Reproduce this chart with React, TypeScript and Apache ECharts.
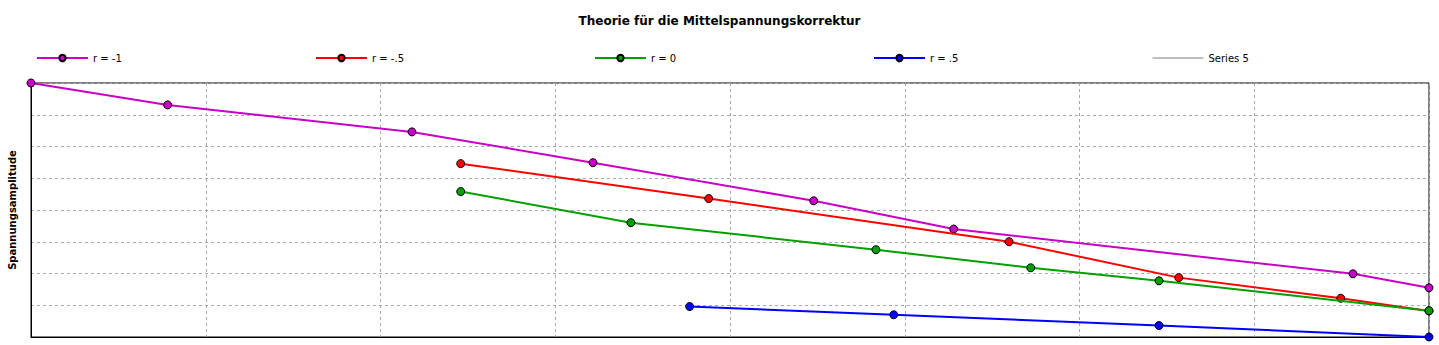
import React, { useEffect, useRef } from "react";
import * as echarts from "echarts";

const seriesNames = ["r = -1", "r = -.5", "r = 0", "r = .5", "Series 5"];
const seriesColors = ["#C800C8", "#FF0000", "#00A000", "#0000FF", "#808080"];

const rMinus1: [number, number][] = [
  [0, 8], [0.782, 7.31], [2.18, 6.46], [3.216, 5.49], [4.479, 4.29], [5.28, 3.4], [7.565, 1.99], [8, 1.55],
];
const rMinusHalf: [number, number][] = [
  [2.459, 5.46], [3.878, 4.36], [5.597, 3.0], [6.568, 1.87], [7.495, 1.22], [8, 0.82],
];
const rZero: [number, number][] = [
  [2.459, 4.58], [3.433, 3.6], [4.835, 2.75], [5.721, 2.18], [6.455, 1.77], [8, 0.83],
];
const rHalf: [number, number][] = [
  [3.769, 0.96], [4.937, 0.7], [6.455, 0.36], [8, 0],
];
const series5: [number, number][] = [];

const allData = [rMinus1, rMinusHalf, rZero, rHalf, series5];
const legendLefts = [36, 315, 594, 873, 1152];

const FONT = "DejaVu Sans";

export default function App() {
  const ref = useRef<HTMLDivElement>(null);
  useEffect(() => {
    if (!ref.current) return;
    const chart = echarts.init(ref.current, undefined, { renderer: "svg" });
    const axisCommon = {
      type: "value" as const,
      min: 0,
      max: 8,
      interval: 1,
      axisLabel: { show: false },
      axisTick: { show: false },
      axisLine: { show: true, lineStyle: { color: "#000", width: 1 } },
      splitLine: { show: true, lineStyle: { color: "#A8A8A8", type: [3, 3] as any, width: 1 } },
    };
    chart.setOption({
      animation: false,
      backgroundColor: "#fff",
      title: {
        text: "Theorie für die Mittelspannungskorrektur",
        left: "center",
        top: 10,
        textStyle: { fontFamily: FONT, fontSize: 12, fontWeight: "bold", color: "#000" },
      },
      legend: seriesNames.map((n, i) => ({
        data: [n],
        left: legendLefts[i],
        top: 53,
        itemWidth: 51,
        itemHeight: 8,
        itemGap: 5,
        padding: 0,
        ...(i === 4
          ? { itemStyle: { opacity: 0 }, lineStyle: { color: seriesColors[i], width: 1 } }
          : {}),
        textStyle: { fontFamily: FONT, fontSize: 10, color: "#000", padding: [0, 0, 0, 0] },
      })),
      grid: {
        left: 31,
        right: 10,
        top: 83,
        bottom: 8,
        show: true,
        borderColor: "#000",
        borderWidth: 1,
        backgroundColor: "transparent",
        containLabel: false,
        outerBoundsMode: "none",
      },
      xAxis: { ...axisCommon },
      yAxis: {
        ...axisCommon,
        name: "Spannungsamplitude",
        nameLocation: "middle",
        nameGap: 14,
        nameTextStyle: { fontFamily: FONT, fontSize: 10, fontWeight: "bold", color: "#000" },
      },
      series: seriesNames.map((n, i) => ({
        name: n,
        type: "line",
        data: allData[i],
        symbol: i === 4 ? "none" : "circle",
        symbolSize: 8,
        showSymbol: i !== 4,
        color: seriesColors[i],
        lineStyle: { color: seriesColors[i], width: i === 4 ? 1 : 2 },
        itemStyle: { color: seriesColors[i], borderColor: "#000", borderWidth: 1 },
        z: 2 + i,
      })),
    });
    return () => chart.dispose();
  }, []);
  return (
    <div
      ref={ref}
      style={{ position: "fixed", left: 0, top: 0, width: 1439, height: 345 }}
    />
  );
}
